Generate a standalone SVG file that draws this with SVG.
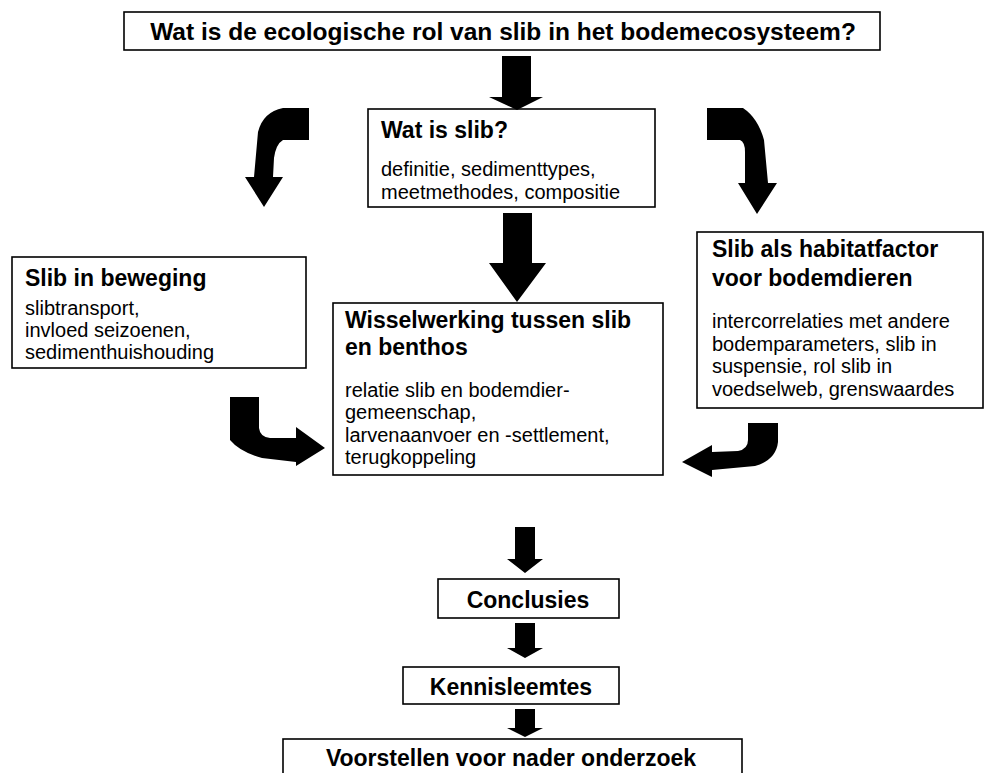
<svg xmlns="http://www.w3.org/2000/svg" width="992" height="773" viewBox="0 0 992 773">
<style>
.box{fill:#fff;stroke:#000;stroke-width:1.6}
.h{font-family:"Liberation Sans",Arial,sans-serif;font-weight:bold;font-size:23px;fill:#000}
.b{font-family:"Liberation Sans",Arial,sans-serif;font-size:20px;fill:#000}
.c{text-anchor:middle}
.arr{fill:#000;stroke:none}
</style>
<rect width="992" height="773" fill="#fff"/>
<g id="title">
<rect class="box" x="124" y="12" width="756" height="38"/>
<text class="h c" x="503" y="40" style="font-size:24.5px">Wat is de ecologische rol van slib in het bodemecosysteem?</text>
</g>
<g id="watisslib">
<rect class="box" x="368" y="109" width="287" height="98"/>
<text class="h" x="381" y="138">Wat is slib?</text>
<text class="b" x="381" y="176">definitie, sedimenttypes,</text>
<text class="b" x="381" y="199">meetmethodes, compositie</text>
</g>
<g id="beweging">
<rect class="box" x="12" y="257" width="294" height="111"/>
<text class="h" x="25" y="286">Slib in beweging</text>
<text class="b" x="25" y="315">slibtransport,</text>
<text class="b" x="25" y="337">invloed seizoenen,</text>
<text class="b" x="25" y="359">sedimenthuishouding</text>
</g>
<g id="wisselwerking">
<rect class="box" x="333" y="303" width="330" height="172"/>
<text class="h" x="345" y="328">Wisselwerking tussen slib</text>
<text class="h" x="345" y="355">en benthos</text>
<text class="b" x="345" y="397">relatie slib en bodemdier-</text>
<text class="b" x="345" y="419">gemeenschap,</text>
<text class="b" x="345" y="442">larvenaanvoer en -settlement,</text>
<text class="b" x="345" y="464">terugkoppeling</text>
</g>
<g id="habitat">
<rect class="box" x="697" y="232" width="286" height="176"/>
<text class="h" x="712" y="257">Slib als habitatfactor</text>
<text class="h" x="712" y="286">voor bodemdieren</text>
<text class="b" x="712" y="328">intercorrelaties met andere</text>
<text class="b" x="712" y="351">bodemparameters, slib in</text>
<text class="b" x="712" y="373">suspensie, rol slib in</text>
<text class="b" x="712" y="396">voedselweb, grenswaardes</text>
</g>
<g id="conclusies">
<rect class="box" x="438" y="579" width="181" height="39"/>
<text class="h c" x="528" y="608">Conclusies</text>
</g>
<g id="kennisleemtes">
<rect class="box" x="403" y="667" width="216" height="37"/>
<text class="h c" x="511" y="695">Kennisleemtes</text>
</g>
<g id="voorstellen">
<rect class="box" x="283" y="739" width="459" height="50"/>
<text class="h c" x="511" y="766">Voorstellen voor nader onderzoek</text>
</g>
<g id="connectors">
<path class="arr" d="M502,56 H531 V97 H543 L517,110 L489,97 H502 Z"/>
<path class="arr" d="M503,213 H532 V263 H546 L517,302 L489,263 H503 Z"/>
<path class="arr" d="M515,527 H535 V559 H543 L525,573 L507,559 H515 Z"/>
<path class="arr" d="M515,623 H535 V648 H543 L525,658 L507,648 H515 Z"/>
<path class="arr" d="M515,709 H535 V728 H543 L525,737 L507,728 H515 Z"/>
<path class="arr" d="M309,108 L283,108 Q263,112 258,132 L254,177 L245,177 L264,207 L283,177 L273,177 L274,158 Q276,144 283,140 L309,140 Z"/>
<path class="arr" d="M707,108 L743,108 Q758,118 764,140 L768,183 L777,183 L757,214 L738,183 L745,183 L745,152 Q745,142 740,140 L707,140 Z"/>
<path class="arr" d="M230,397 H259 V428 Q260,437 270,438 H296 V427 L325,448 L296,466 V462 L262,458 Q240,452 230,440 Z"/>
<path class="arr" d="M748,423 H778 V442 Q776,460 755,466 L712,470 V477 L682,462 L712,445 V452 L738,451 Q748,449 748,440 Z"/>
</g>
</svg>
